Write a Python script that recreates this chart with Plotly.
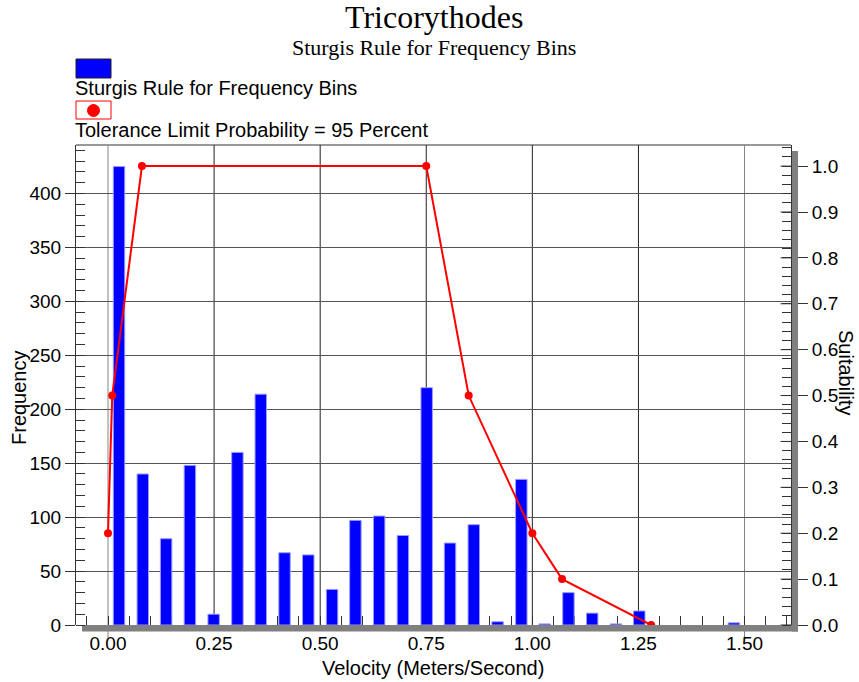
import plotly.graph_objects as go

# Frequency histogram of observed velocities (bin centres, m/s) and counts
bin_centers = [0.026, 0.082, 0.137, 0.193, 0.249, 0.305, 0.360, 0.416, 0.472,
               0.528, 0.583, 0.639, 0.695, 0.751, 0.806, 0.862, 0.918, 0.974,
               1.029, 1.085, 1.141, 1.197, 1.252, 1.308, 1.364, 1.420, 1.475]
counts = [425, 140, 80, 148, 10, 160, 214, 67, 65, 33, 97, 101, 83, 220, 76,
          93, 3, 135, 1, 30, 11, 1, 13, 0, 0, 0, 2]

# Suitability curve (tolerance limit probability = 95 percent)
suit_velocity = [0.0, 0.01, 0.08, 0.75, 0.85, 1.0, 1.07, 1.28]
suit_index = [0.2, 0.5, 1.0, 1.0, 0.5, 0.2, 0.1, 0.0]

x_ticks = [0.0, 0.25, 0.5, 0.75, 1.0, 1.25, 1.5]
suit_ticks = [0.0, 0.1, 0.2, 0.3, 0.4, 0.5, 0.6, 0.7, 0.8, 0.9, 1.0]

title = "Tricorythodes"
subtitle = "Sturgis Rule for Frequency Bins"
bar_name = "Sturgis Rule for Frequency Bins"
line_name = "Tolerance Limit Probability = 95 Percent"

SANS = "Liberation Sans, Arial, sans-serif"
SERIF = "Liberation Serif, Times New Roman, serif"

# page geometry (pixels) of the plotting area
W_PAGE, H_PAGE = 859, 682
L, R, T, B = 76, 791, 145, 625
PW, PH = R - L, B - T


def fx(px):
    return (px - L) / PW


def fy(py):
    return (B - py) / PH


fig = go.Figure()

# empty bins get no outline so nothing shows on the axis
outline_w = [1 if c > 0 else 0 for c in counts]

fig.add_trace(go.Bar(
    x=bin_centers, y=counts, width=0.027,
    marker=dict(color="#0000ff", line=dict(color="#9a9aff", width=outline_w)),
    name=bar_name, yaxis="y", hoverinfo="x+y",
))

fig.add_trace(go.Scatter(
    x=suit_velocity, y=suit_index, mode="lines+markers",
    line=dict(color="#ff0000", width=2),
    marker=dict(color="#ff0000", size=8, symbol="circle"),
    name=line_name, yaxis="y2",
))

shapes = []
# drop shadow of the plotting area (bottom and right bands)
shapes.append(dict(type="rect", xref="paper", yref="paper",
                   x0=fx(82), x1=fx(798), y0=fy(631.5), y1=fy(625),
                   fillcolor="#808080", line=dict(width=0), layer="below"))
shapes.append(dict(type="rect", xref="paper", yref="paper",
                   x0=fx(792), x1=fx(798), y0=fy(631.5), y1=fy(151),
                   fillcolor="#808080", line=dict(width=0), layer="above"))
# top border
shapes.append(dict(type="line", xref="paper", yref="paper",
                   x0=0, x1=1, y0=1, y1=1,
                   line=dict(color="#333333", width=1), layer="below"))
# vertical grid lines; the end lines are lighter and run past the axis
for v in x_ticks:
    edge = v in (x_ticks[0], x_ticks[-1])
    shapes.append(dict(type="line", xref="x", yref="paper",
                       x0=v, x1=v, y0=fy(638) if edge else 0, y1=1,
                       line=dict(color="#858585" if edge else "#222222", width=1),
                       layer="below"))
# inner half of the major suitability ticks
for v in suit_ticks:
    shapes.append(dict(type="line", xref="paper", yref="y2",
                       x0=fx(780.5), x1=1, y0=v, y1=v,
                       line=dict(color="#333333", width=1), layer="above"))

# hand-built legend
shapes.append(dict(type="rect", xref="paper", yref="paper",
                   x0=fx(76), x1=fx(111), y0=fy(78), y1=fy(59),
                   fillcolor="#0000ff", line=dict(color="#202020", width=1)))
shapes.append(dict(type="rect", xref="paper", yref="paper",
                   x0=fx(76), x1=fx(111), y0=fy(119), y1=fy(101),
                   fillcolor="#ffffff", line=dict(color="#ff0000", width=1)))
shapes.append(dict(type="circle", xref="paper", yref="paper",
                   x0=fx(87.5), x1=fx(99.5), y0=fy(116.5), y1=fy(104.5),
                   fillcolor="#ff0000", line=dict(color="#ff0000", width=1)))

annotations = [
    dict(text=title, x=fx(434), y=fy(17), font=dict(family=SERIF, size=32, color="#000")),
    dict(text=subtitle, x=fx(434), y=fy(47.5), font=dict(family=SERIF, size=22, color="#000")),
    dict(text=bar_name, x=fx(73), y=fy(88), xanchor="left",
         font=dict(family=SANS, size=20, color="#000")),
    dict(text=line_name, x=fx(73), y=fy(130), xanchor="left",
         font=dict(family=SANS, size=20, color="#000")),
    dict(text="Frequency", x=fx(19), y=fy(398), textangle=-90,
         font=dict(family=SANS, size=20, color="#000")),
    dict(text="Suitability", x=fx(846), y=fy(373), textangle=90,
         font=dict(family=SANS, size=20, color="#000")),
    dict(text="Velocity (Meters/Second)", x=fx(433), y=fy(667.5),
         font=dict(family=SANS, size=20, color="#000")),
]
for a in annotations:
    a.update(xref="paper", yref="paper", showarrow=False)
    a.setdefault("xanchor", "center")
    a.setdefault("yanchor", "middle")

fig.update_layout(
    width=W_PAGE, height=H_PAGE,
    margin=dict(l=L, r=W_PAGE - R, t=T, b=H_PAGE - B, pad=0),
    paper_bgcolor="#ffffff", plot_bgcolor="#ffffff",
    showlegend=False,
    font=dict(family=SANS, size=19, color="#000"),
    shapes=shapes, annotations=annotations,
    xaxis=dict(
        range=[-0.0754, 1.6095], tickvals=x_ticks, tickformat=".2f",
        showgrid=False, zeroline=False, showline=False,
        ticks="", ticklabelstandoff=5,
        layer="below traces",
        minor=dict(ticks="inside", dtick=0.05, tick0=0, ticklen=9,
                   tickcolor="#333333", showgrid=False),
        tickfont=dict(family=SANS, size=19, color="#000"),
    ),
    yaxis=dict(
        range=[0, 445], dtick=50, tick0=0,
        showgrid=True, gridcolor="#555555", gridwidth=1, zeroline=False,
        showline=True, linecolor="#333333", linewidth=1,
        ticks="outside", ticklen=10, tickcolor="#333333",
        minor=dict(ticks="inside", dtick=10, ticklen=9, tickcolor="#333333",
                   showgrid=False),
        layer="below traces",
        tickfont=dict(family=SANS, size=19, color="#000"),
    ),
    yaxis2=dict(
        range=[0, 1.046], tickvals=suit_ticks, tickformat=".1f",
        overlaying="y", side="right",
        showgrid=False, zeroline=False,
        showline=True, linecolor="#333333", linewidth=1,
        ticks="outside", ticklen=16, tickcolor="#333333",
        minor=dict(ticks="inside", dtick=0.02, tick0=0, ticklen=9,
                   tickcolor="#333333"),
        layer="below traces",
        tickfont=dict(family=SANS, size=19, color="#000"),
    ),
)

fig.write_html("out.html")
